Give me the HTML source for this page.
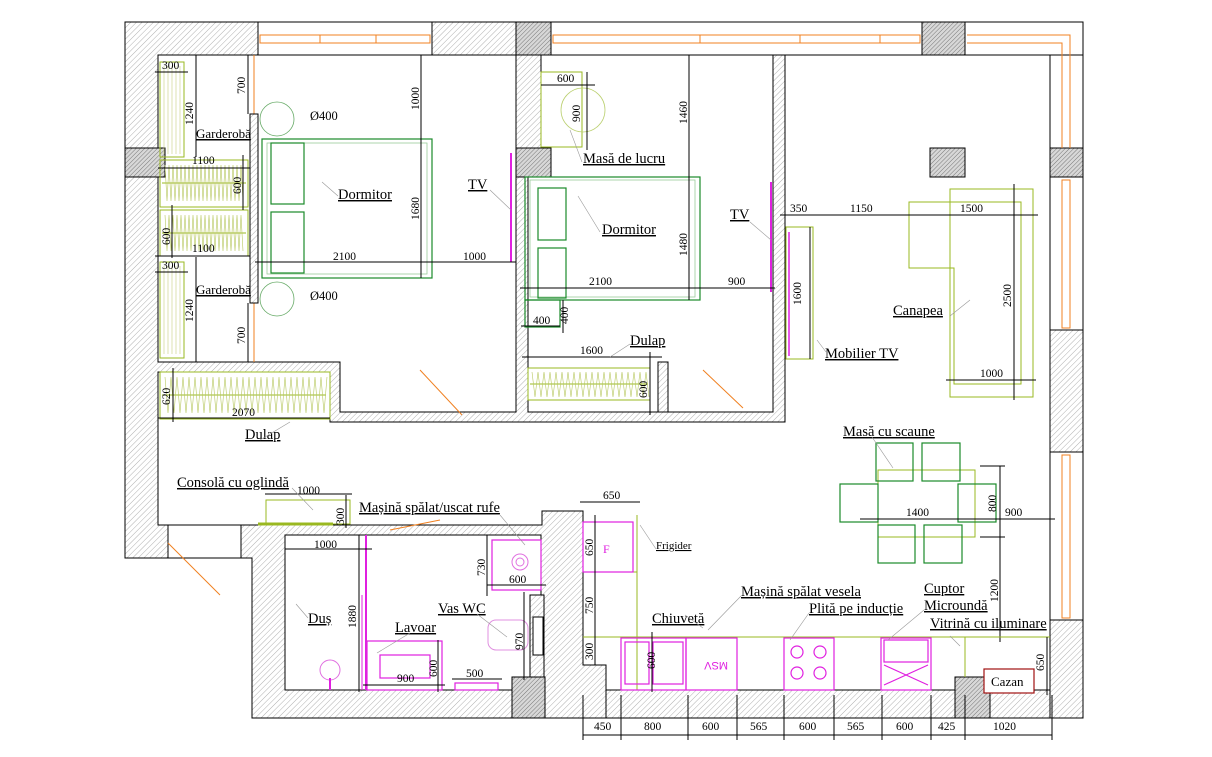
<!DOCTYPE html>
<html><head><meta charset="utf-8"><style>
html,body{margin:0;padding:0;background:#fff}
svg{display:block}
text{font-family:"Liberation Serif",serif;fill:#000}
.l{font-size:14.5px;text-decoration:underline}
.d{font-size:11.5px}
.g{fill:none;stroke:#1a8a2a;stroke-width:1.2}
.y{fill:none;stroke:#9ab820;stroke-width:1}
.m{fill:none;stroke:#e020e0;stroke-width:1.2}
.k{stroke:#000;stroke-width:1;fill:none}
.o{stroke:#f08020;stroke-width:1;fill:none}
.ld{stroke:#999;stroke-width:0.6;fill:none}
</style></head><body>
<svg width="1212" height="757" viewBox="0 0 1212 757" xmlns="http://www.w3.org/2000/svg">
<defs>
<pattern id="h" width="4" height="4" patternUnits="userSpaceOnUse" patternTransform="rotate(45)">
<rect width="4" height="4" fill="#fff"/><line x1="0" y1="0" x2="0" y2="4" stroke="#b0b0b0" stroke-width="1"/></pattern>
<pattern id="hd" width="3" height="3" patternUnits="userSpaceOnUse" patternTransform="rotate(45)">
<rect width="3" height="3" fill="#d8d8d8"/><line x1="0" y1="0" x2="0" y2="3" stroke="#777" stroke-width="1"/></pattern>
</defs>
<polygon points="125,22 1083,22 1083,718 252,718 252,558 125,558" fill="url(#h)" stroke="#000"/>
<g fill="#fff" stroke="#000">
<polygon points="158,55 516,55 516,412 340,412 340,362 158,362"/>
<polygon points="541,55 773,55 773,412 528,412 528,177 541,177"/>
<polygon points="158,372 330,372 330,422 785,422 785,55 1050,55 1050,690 606,690 606,665 583,665 583,511 542,511 542,525 158,525"/>
<rect x="285" y="535" width="256" height="155"/>
<rect x="168" y="525" width="73" height="33"/>
<rect x="258" y="22" width="174" height="33"/>
<rect x="551" y="22" width="371" height="33"/>
<rect x="965" y="22" width="118" height="33"/>
<rect x="1050" y="55" width="33" height="93"/>
<rect x="1050" y="177" width="33" height="153"/>
<rect x="1050" y="452" width="33" height="168"/>
<rect x="606" y="690" width="349" height="28" fill="url(#h)"/>
<rect x="990" y="690" width="60" height="28" fill="url(#h)"/>
</g>
<g fill="url(#hd)" stroke="#000">
<rect x="516" y="22" width="35" height="33"/><rect x="516" y="148" width="35" height="29"/>
<rect x="922" y="22" width="43" height="33"/><rect x="930" y="148" width="35" height="29"/>
<rect x="1050" y="148" width="33" height="29"/><rect x="125" y="148" width="40" height="29"/>
<rect x="512" y="677" width="33" height="41"/><rect x="955" y="677" width="35" height="41"/>
</g>
<rect x="530" y="595" width="14" height="82" fill="url(#h)" stroke="#000"/>
<g class="o">
<rect x="260" y="35" width="170" height="8"/><line x1="320" y1="35" x2="320" y2="43"/><line x1="376" y1="35" x2="376" y2="43"/>
<rect x="553" y="35" width="367" height="8"/><line x1="700" y1="35" x2="700" y2="43"/><line x1="800" y1="35" x2="800" y2="43"/><line x1="880" y1="35" x2="880" y2="43"/>
<polyline points="967,35 1070,35 1070,148"/><polyline points="967,43 1062,43 1062,148"/>
<rect x="1062" y="180" width="8" height="148"/><rect x="1062" y="455" width="8" height="163"/>
<line x1="254" y1="55" x2="254" y2="114"/><line x1="254" y1="303" x2="254" y2="362"/>
<line x1="420" y1="370" x2="462" y2="415"/><line x1="703" y1="370" x2="743" y2="408"/>
<line x1="168" y1="543" x2="220" y2="595"/><line x1="390" y1="530" x2="440" y2="520"/>
</g>
<rect x="250" y="114" width="8" height="189" fill="url(#h)" stroke="#000"/>
<rect x="262" y="139" width="170" height="139" class="g"/>
<rect x="267" y="143" width="160" height="131" fill="none" stroke="#9c9" stroke-width="0.8"/>
<rect x="271" y="143" width="33" height="61" class="g"/><rect x="271" y="212" width="33" height="61" class="g"/>
<circle cx="277" cy="119" r="17" fill="none" stroke="#6a6" stroke-width="0.8"/>
<circle cx="277" cy="299" r="17" fill="none" stroke="#6a6" stroke-width="0.8"/>
<g class="y">
<rect x="160" y="62" width="24" height="95"/><rect x="160" y="262" width="24" height="96"/>
<rect x="160" y="160" width="88" height="47"/><rect x="160" y="210" width="88" height="46"/>
<rect x="160" y="372" width="170" height="47"/>
<line x1="162" y1="183" x2="246" y2="183"/><line x1="162" y1="233" x2="246" y2="233"/><line x1="162" y1="395" x2="326" y2="395"/>
</g>
<g stroke="#c8d080" stroke-width="0.6" fill="none">
<path d="M164 66 v88 M168 66 v88 M172 66 v88 M176 66 v88 M180 66 v88 M164 266 v88 M168 266 v88 M172 266 v88 M176 266 v88 M180 266 v88"/>
</g>
<g stroke="#b8c860" stroke-width="0.6">
<path d="M165 165 l2 36 l2 -36 l2 36 l2 -36 l2 36 l2 -36 l2 36 l2 -36 l2 36 l2 -36 l2 36 l2 -36 l2 36 l2 -36 l2 36 l2 -36 l2 36 l2 -36 l2 36 l2 -36 l2 36 l2 -36 l2 36 l2 -36 l2 36 l2 -36 l2 36 l2 -36 l2 36 l2 -36 l2 36 l2 -36 l2 36 l2 -36 l2 36 l2 -36 l2 36 l2 -36 l2 36" fill="none"/>
<path d="M165 215 l2 36 l2 -36 l2 36 l2 -36 l2 36 l2 -36 l2 36 l2 -36 l2 36 l2 -36 l2 36 l2 -36 l2 36 l2 -36 l2 36 l2 -36 l2 36 l2 -36 l2 36 l2 -36 l2 36 l2 -36 l2 36 l2 -36 l2 36 l2 -36 l2 36 l2 -36 l2 36 l2 -36 l2 36 l2 -36 l2 36 l2 -36 l2 36 l2 -36 l2 36 l2 -36 l2 36" fill="none"/>
<path d="M165 377 l3 36 l3 -36 l3 36 l3 -36 l3 36 l3 -36 l3 36 l3 -36 l3 36 l3 -36 l3 36 l3 -36 l3 36 l3 -36 l3 36 l3 -36 l3 36 l3 -36 l3 36 l3 -36 l3 36 l3 -36 l3 36 l3 -36 l3 36 l3 -36 l3 36 l3 -36 l3 36 l3 -36 l3 36 l3 -36 l3 36 l3 -36 l3 36 l3 -36 l3 36 l3 -36 l3 36 l3 -36 l3 36 l3 -36 l3 36 l3 -36 l3 36 l3 -36 l3 36 l3 -36 l3 36 l3 -36 l3 36 l3 -36 l3 36 l3 -36" fill="none"/>
</g>
<line x1="511" y1="153" x2="511" y2="262" stroke="#e020e0" stroke-width="2"/>
<g class="k">
<line x1="155" y1="72" x2="188" y2="72"/><line x1="196" y1="55" x2="196" y2="157"/><line x1="248" y1="55" x2="248" y2="114"/>
<line x1="421" y1="55" x2="421" y2="278"/><line x1="255" y1="262" x2="516" y2="262"/>
<line x1="158" y1="168" x2="250" y2="168"/><line x1="243" y1="155" x2="243" y2="210"/><line x1="172" y1="205" x2="172" y2="258"/>
<line x1="155" y1="256" x2="250" y2="256"/><line x1="155" y1="272" x2="188" y2="272"/><line x1="196" y1="257" x2="196" y2="362"/>
<line x1="248" y1="303" x2="248" y2="362"/><line x1="158" y1="418" x2="330" y2="418"/><line x1="173" y1="368" x2="173" y2="422"/>
<line x1="196" y1="140" x2="250" y2="140"/><line x1="196" y1="296" x2="250" y2="296"/>
</g>
<g class="d">
<text x="162" y="69">300</text><text x="162" y="269">300</text>
<text x="192" y="164">1100</text><text x="192" y="252">1100</text>
<text x="333" y="260">2100</text><text x="463" y="260">1000</text><text x="232" y="416">2070</text>
<text x="310" y="120" font-size="12.5">Ø400</text><text x="310" y="300" font-size="12.5">Ø400</text>
<text transform="translate(193,125) rotate(-90)">1240</text><text transform="translate(193,322) rotate(-90)">1240</text>
<text transform="translate(245,94) rotate(-90)">700</text><text transform="translate(245,344) rotate(-90)">700</text>
<text transform="translate(419,110) rotate(-90)">1000</text><text transform="translate(419,220) rotate(-90)">1680</text>
<text transform="translate(241,194) rotate(-90)">600</text><text transform="translate(170,245) rotate(-90)">600</text>
<text transform="translate(170,405) rotate(-90)">620</text>
</g>
<g class="l">
<text x="196" y="138" font-size="13">Garderobă</text><text x="196" y="294" font-size="13">Garderobă</text>
<text x="338" y="199">Dormitor</text><text x="468" y="189">TV</text><text x="245" y="439">Dulap</text>
</g>
<rect x="541" y="72" width="41" height="75" class="y"/>
<circle cx="583" cy="110" r="22" fill="none" stroke="#bbd070" stroke-width="0.8"/>
<rect x="525" y="177" width="175" height="123" class="g"/>
<rect x="530" y="180" width="165" height="117" fill="none" stroke="#9c9" stroke-width="0.8"/>
<rect x="538" y="188" width="28" height="52" class="g"/><rect x="538" y="248" width="28" height="50" class="g"/>
<rect x="525" y="300" width="35" height="27" class="g"/>
<rect x="528" y="368" width="122" height="32" class="y"/><line x1="530" y1="384" x2="648" y2="384" stroke="#9ab820"/>
<path d="M532 372 l3 25 l3 -25 l3 25 l3 -25 l3 25 l3 -25 l3 25 l3 -25 l3 25 l3 -25 l3 25 l3 -25 l3 25 l3 -25 l3 25 l3 -25 l3 25 l3 -25 l3 25 l3 -25 l3 25 l3 -25 l3 25 l3 -25 l3 25 l3 -25 l3 25 l3 -25 l3 25 l3 -25 l3 25 l3 -25 l3 25 l3 -25 l3 25 l3 -25 l3 25 l3 -25 l3 25" fill="none" stroke="#b8c860" stroke-width="0.6"/>
<rect x="658" y="362" width="10" height="50" fill="url(#h)" stroke="#000"/>
<line x1="771" y1="182" x2="771" y2="292" stroke="#e020e0" stroke-width="2"/>
<g class="k">
<line x1="541" y1="85" x2="595" y2="85"/><line x1="587" y1="72" x2="587" y2="150"/><line x1="689" y1="55" x2="689" y2="300"/>
<line x1="520" y1="288" x2="775" y2="288"/><line x1="521" y1="326" x2="560" y2="326"/><line x1="563" y1="300" x2="563" y2="333"/>
<line x1="522" y1="357" x2="662" y2="357"/><line x1="650" y1="352" x2="650" y2="415"/>
</g>
<g class="d">
<text x="557" y="82">600</text><text x="589" y="285">2100</text><text x="728" y="285">900</text>
<text x="533" y="324">400</text><text x="580" y="354">1600</text>
<text transform="translate(580,122) rotate(-90)">900</text><text transform="translate(687,124) rotate(-90)">1460</text>
<text transform="translate(687,256) rotate(-90)">1480</text><text transform="translate(568,324) rotate(-90)">400</text>
<text transform="translate(647,398) rotate(-90)">600</text>
</g>
<g class="l"><text x="583" y="163">Masă de lucru</text><text x="602" y="234">Dormitor</text><text x="730" y="219">TV</text><text x="630" y="345">Dulap</text></g>
<rect x="786" y="227" width="27" height="132" class="y"/>
<line x1="789" y1="232" x2="789" y2="356" stroke="#e020e0" stroke-width="1.5"/>
<polygon points="950,189 1033,189 1033,397 950,397" class="y"/>
<polygon points="909,202 1021,202 1021,384 954,384 954,268 909,268" class="y"/>
<g class="k">
<line x1="780" y1="215" x2="1038" y2="215"/><line x1="810" y1="227" x2="810" y2="359"/>
<line x1="1014" y1="184" x2="1014" y2="400"/><line x1="946" y1="380" x2="1036" y2="380"/>
</g>
<g class="d">
<text x="790" y="212">350</text><text x="850" y="212">1150</text><text x="960" y="212">1500</text><text x="980" y="377">1000</text>
<text transform="translate(801,305) rotate(-90)">1600</text><text transform="translate(1011,307) rotate(-90)">2500</text>
</g>
<g class="l"><text x="825" y="358">Mobilier TV</text><text x="893" y="315">Canapea</text></g>
<rect x="878" y="470" width="97" height="67" class="y"/>
<g class="g">
<rect x="876" y="443" width="37" height="38"/><rect x="922" y="443" width="38" height="38"/>
<rect x="878" y="525" width="37" height="38"/><rect x="924" y="525" width="38" height="38"/>
<rect x="840" y="484" width="38" height="38"/><rect x="958" y="484" width="38" height="38"/>
</g>
<g class="k"><line x1="860" y1="519" x2="1055" y2="519"/><line x1="1000" y1="466" x2="1000" y2="642"/><line x1="980" y1="466" x2="1005" y2="466"/><line x1="980" y1="537" x2="1005" y2="537"/></g>
<g class="d"><text x="906" y="516">1400</text><text x="1005" y="516">900</text>
<text transform="translate(996,512) rotate(-90)">800</text><text transform="translate(998,602) rotate(-90)">1200</text></g>
<text class="l" x="843" y="436">Masă cu scaune</text>
<line x1="583" y1="637" x2="1050" y2="637" stroke="#9ab820"/>
<line x1="637" y1="515" x2="637" y2="690" stroke="#9ab820"/>
<line x1="583" y1="572" x2="637" y2="572" stroke="#9ab820"/>
<line x1="965" y1="637" x2="965" y2="677" stroke="#9ab820"/>
<rect x="583" y="522" width="50" height="50" class="m"/>
<text x="603" y="553" font-size="12" style="fill:#e020e0">F</text>
<rect x="621" y="638" width="65" height="52" class="m"/><rect x="625" y="642" width="24" height="42" class="m"/><rect x="653" y="642" width="30" height="42" class="m"/>
<rect x="686" y="638" width="51" height="52" class="m"/>
<text transform="translate(728,662) scale(-1,-1)" style="fill:#e020e0;font-family:'Liberation Sans',sans-serif;font-size:11px">MSV</text>
<rect x="784" y="638" width="50" height="52" class="m"/>
<circle cx="797" cy="652" r="6" class="m"/><circle cx="820" cy="652" r="6" class="m"/><circle cx="797" cy="673" r="6" class="m"/><circle cx="820" cy="673" r="6" class="m"/>
<rect x="881" y="638" width="50" height="52" class="m"/><rect x="884" y="640" width="44" height="22" class="m"/>
<path d="M884 665 L928 685 M928 665 L884 685" class="m" stroke-width="0.8"/>
<rect x="984" y="669" width="50" height="24" fill="#fff" stroke="#a01010" stroke-width="1.2"/>
<text x="991" y="686" font-size="13">Cazan</text>
<g class="k">
<line x1="580" y1="502" x2="640" y2="502"/><line x1="595" y1="515" x2="595" y2="665"/>
<line x1="1047" y1="637" x2="1047" y2="695"/><line x1="583" y1="735" x2="1052" y2="735"/>
<line x1="583" y1="695" x2="583" y2="740"/><line x1="621" y1="695" x2="621" y2="740"/><line x1="688" y1="695" x2="688" y2="740"/>
<line x1="737" y1="695" x2="737" y2="740"/><line x1="784" y1="695" x2="784" y2="740"/><line x1="834" y1="695" x2="834" y2="740"/>
<line x1="882" y1="695" x2="882" y2="740"/><line x1="931" y1="695" x2="931" y2="740"/><line x1="965" y1="695" x2="965" y2="740"/><line x1="1052" y1="695" x2="1052" y2="740"/>
<line x1="652" y1="632" x2="652" y2="692"/>
</g>
<g class="d">
<text x="603" y="499">650</text>
<text x="594" y="730">450</text><text x="644" y="730">800</text><text x="702" y="730">600</text><text x="750" y="730">565</text>
<text x="799" y="730">600</text><text x="847" y="730">565</text><text x="896" y="730">600</text><text x="938" y="730">425</text><text x="993" y="730">1020</text>
<text transform="translate(593,556) rotate(-90)">650</text><text transform="translate(593,614) rotate(-90)">750</text>
<text transform="translate(593,660) rotate(-90)">300</text><text transform="translate(655,669) rotate(-90)">600</text>
<text transform="translate(1044,671) rotate(-90)">650</text>
</g>
<g class="l"><text x="656" y="549" font-size="11">Frigider</text><text x="652" y="623">Chiuvetă</text><text x="741" y="596">Mașină spălat vesela</text>
<text x="809" y="613">Plită pe inducție</text><text x="924" y="593" style="text-decoration:none">Cuptor</text><text x="924" y="610">Microundă</text><text x="930" y="628">Vitrină cu iluminare</text></g>
<rect x="266" y="500" width="84" height="24" class="y"/><line x1="258" y1="524" x2="333" y2="524" stroke="#9ab820" stroke-width="3"/>
<rect x="492" y="540" width="49" height="50" class="m"/>
<circle cx="520" cy="562" r="8" fill="none" stroke="#e070e0"/><circle cx="520" cy="562" r="4" fill="none" stroke="#e070e0"/>
<line x1="366" y1="535" x2="366" y2="690" stroke="#e020e0" stroke-width="2"/><line x1="362" y1="595" x2="362" y2="690" stroke="#e020e0"/>
<rect x="367" y="641" width="75" height="49" class="m"/><rect x="380" y="655" width="50" height="23" class="m"/>
<rect x="488" y="620" width="40" height="30" rx="8" fill="none" stroke="#e090e0"/>
<rect x="455" y="683" width="43" height="7" class="m"/>
<circle cx="330" cy="670" r="10" fill="none" stroke="#e070e0"/><line x1="330" y1="678" x2="330" y2="690" stroke="#e020e0" stroke-width="2"/>
<rect x="533" y="617" width="10" height="38" fill="#fff" stroke="#000"/>
<g class="k">
<line x1="265" y1="494" x2="352" y2="494"/><line x1="346" y1="495" x2="346" y2="528"/>
<line x1="285" y1="549" x2="372" y2="549"/><line x1="359" y1="535" x2="359" y2="692"/>
<line x1="487" y1="535" x2="487" y2="596"/><line x1="487" y1="585" x2="546" y2="585"/><line x1="524" y1="592" x2="524" y2="680"/>
<line x1="363" y1="685" x2="445" y2="685"/><line x1="438" y1="640" x2="438" y2="692"/><line x1="452" y1="679" x2="502" y2="679"/>
</g>
<g class="d">
<text x="297" y="494">1000</text><text x="314" y="548">1000</text><text x="509" y="583">600</text><text x="397" y="682">900</text><text x="466" y="677">500</text>
<text transform="translate(344,525) rotate(-90)">300</text><text transform="translate(356,628) rotate(-90)">1880</text>
<text transform="translate(485,576) rotate(-90)">730</text><text transform="translate(523,650) rotate(-90)">970</text>
<text transform="translate(437,677) rotate(-90)">600</text>
</g>
<g class="l"><text x="177" y="487" style="text-decoration:none">Consolă cu oglindă</text><text x="359" y="512" style="text-decoration:none">Mașină spălat/uscat rufe</text>
<text x="308" y="623">Duș</text><text x="395" y="632">Lavoar</text><text x="438" y="613">Vas WC</text></g>
<g class="ld">
<line x1="322" y1="182" x2="338" y2="196"/><line x1="570" y1="130" x2="582" y2="162"/><line x1="578" y1="196" x2="600" y2="232"/>
<line x1="490" y1="190" x2="511" y2="210"/><line x1="750" y1="222" x2="771" y2="240"/><line x1="817" y1="340" x2="826" y2="352"/>
<line x1="970" y1="300" x2="950" y2="316"/><line x1="872" y1="437" x2="893" y2="468"/><line x1="610" y1="357" x2="630" y2="344"/>
<line x1="685" y1="615" x2="703" y2="628"/><line x1="741" y1="596" x2="708" y2="630"/><line x1="809" y1="613" x2="790" y2="640"/>
<line x1="924" y1="610" x2="888" y2="640"/><line x1="960" y1="646" x2="950" y2="636"/><line x1="640" y1="525" x2="656" y2="549"/>
<line x1="500" y1="515" x2="525" y2="545"/><line x1="292" y1="488" x2="313" y2="510"/><line x1="296" y1="604" x2="308" y2="618"/>
<line x1="410" y1="633" x2="377" y2="653"/><line x1="477" y1="614" x2="507" y2="637"/><line x1="260" y1="440" x2="290" y2="422"/>
</g>
</svg>
</body></html>
